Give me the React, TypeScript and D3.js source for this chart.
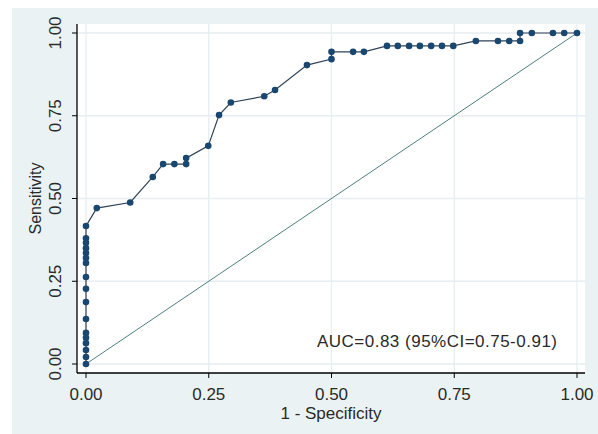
import React from "react";
import * as d3 from "d3";

// 1 - specificity / sensitivity pairs
const fpr = [
  0, 0, 0, 0, 0, 0, 0, 0, 0, 0, 0, 0, 0, 0, 0, 0, 0,
  0.022, 0.09, 0.136, 0.157, 0.18, 0.204, 0.204, 0.249, 0.271, 0.295, 0.363,
  0.385, 0.45, 0.5, 0.5, 0.544, 0.566, 0.613, 0.635, 0.658, 0.68, 0.703,
  0.725, 0.748, 0.794, 0.839, 0.862, 0.884, 0.884, 0.908, 0.951, 0.974, 1,
];
const tpr = [
  0, 0.021, 0.042, 0.063, 0.079, 0.094, 0.136, 0.187, 0.227, 0.263, 0.305,
  0.32, 0.335, 0.35, 0.366, 0.38, 0.417,
  0.471, 0.488, 0.565, 0.604, 0.604, 0.604, 0.622, 0.659, 0.752, 0.79, 0.809,
  0.828, 0.903, 0.921, 0.943, 0.943, 0.943, 0.961, 0.961, 0.961, 0.961, 0.961,
  0.961, 0.961, 0.976, 0.976, 0.976, 0.976, 1, 1, 1, 1, 1,
];
const ticks = [0, 0.25, 0.5, 0.75, 1];
const xTitle = "1 - Specificity";
const yTitle = "Sensitivity";
const note = "AUC=0.83 (95%CI=0.75-0.91)";

export default function App() {
  const width = 598;
  const height = 434;
  const plot = { left: 77, right: 585, top: 24, bottom: 373 };

  const x = d3.scaleLinear().domain([0, 1]).range([86, 577]);
  const y = d3.scaleLinear().domain([0, 1]).range([364, 33]);

  const pts = fpr.map((f, i) => [f, tpr[i]] as [number, number]);
  const line = d3
    .line<[number, number]>()
    .x((d) => x(d[0]))
    .y((d) => y(d[1]));

  const font = "'Liberation Sans', Arial, sans-serif";
  const txt = "#2a2a2a";

  return (
    <svg
      width={width}
      height={height}
      style={{ position: "absolute", left: 0, top: 0, background: "#fff" }}
    >
      <rect x={12} y={8} width={586} height={426} fill="#eaf2f3" />
      <rect
        x={plot.left}
        y={plot.top}
        width={plot.right - plot.left}
        height={plot.bottom - plot.top}
        fill="#fff"
      />
      {/* grid */}
      {ticks.map((t) => (
        <g key={"g" + t}>
          <line
            x1={plot.left}
            x2={plot.right}
            y1={y(t)}
            y2={y(t)}
            stroke="#e6eef1"
            strokeWidth={1.3}
          />
          <line
            x1={x(t)}
            x2={x(t)}
            y1={plot.top}
            y2={plot.bottom}
            stroke="#e6eef1"
            strokeWidth={1.3}
          />
        </g>
      ))}
      {/* axes */}
      <line x1={plot.left} x2={plot.left} y1={plot.top} y2={plot.bottom} stroke="#000" strokeWidth={1.3} />
      <line x1={plot.left} x2={plot.right} y1={plot.bottom} y2={plot.bottom} stroke="#000" strokeWidth={1.3} />
      {ticks.map((t) => (
        <g key={"t" + t} fontFamily={font} fontSize={17} fill={txt}>
          <line x1={plot.left - 5} x2={plot.left} y1={y(t)} y2={y(t)} stroke="#000" />
          <line x1={x(t)} x2={x(t)} y1={plot.bottom} y2={plot.bottom + 5} stroke="#000" />
          <text
            transform={`translate(61,${y(t)}) rotate(-90)`}
            textAnchor="middle"
          >
            {t.toFixed(2)}
          </text>
          <text x={x(t)} y={400} textAnchor="middle">
            {t.toFixed(2)}
          </text>
        </g>
      ))}
      <text x={331} y={419} textAnchor="middle" fontFamily={font} fontSize={17} fill={txt}>
        {xTitle}
      </text>
      <text
        transform={`translate(41,${(plot.top + plot.bottom) / 2}) rotate(-90)`}
        textAnchor="middle"
        fontFamily={font}
        fontSize={16}
        fill={txt}
      >
        {yTitle}
      </text>
      {/* reference diagonal */}
      <line x1={x(0)} y1={y(0)} x2={x(1)} y2={y(1)} stroke="#4f7f7c" strokeWidth={1} />
      {/* ROC curve */}
      <path d={line(pts) ?? ""} fill="none" stroke="#2f4356" strokeWidth={1.2} />
      {pts.map((d, i) => (
        <circle key={i} cx={x(d[0])} cy={y(d[1])} r={3.3} fill="#1a476f" />
      ))}
      <text
        x={317}
        y={347}
        fontFamily={font}
        fontSize={17}
        fill={txt}
        textLength={240}
        lengthAdjust="spacing"
      >
        {note}
      </text>
    </svg>
  );
}
